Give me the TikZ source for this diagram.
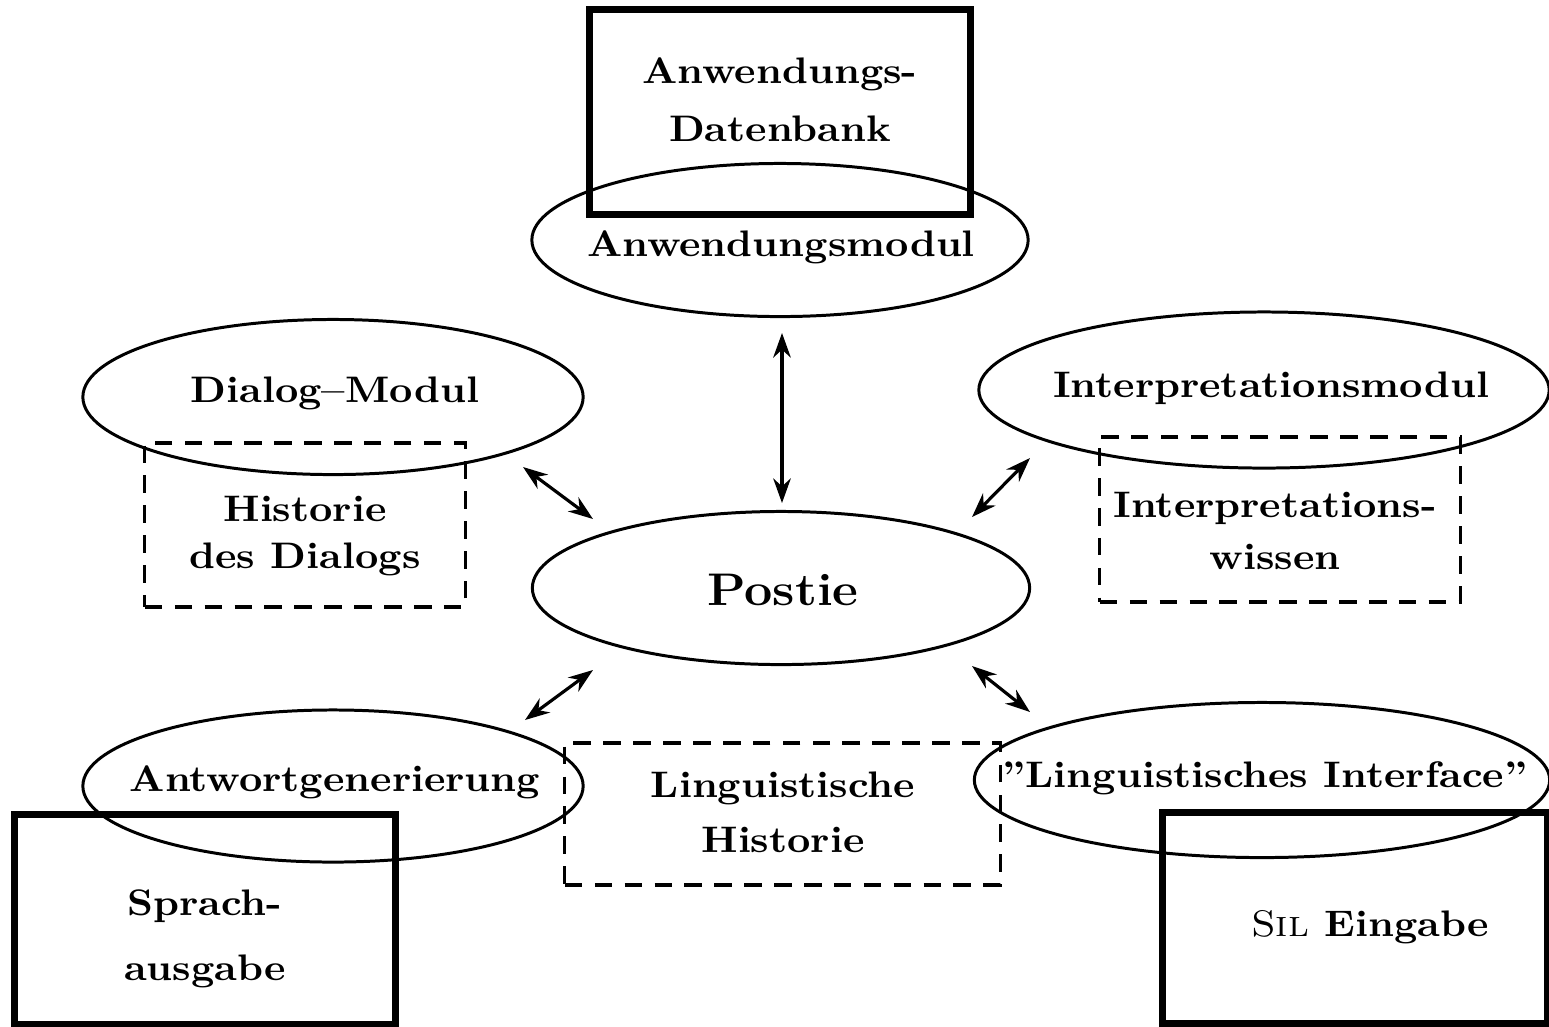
\documentclass[tikz,border=0pt]{standalone}
\usetikzlibrary{shapes.geometric,arrows.meta}
\newcommand{\sx}[1]{\scalebox{1.1}[1]{#1}}
\begin{document}
\begin{tikzpicture}[x=0.01cm,y=-0.01cm,
  ell/.style={draw, ellipse, line width=0.85pt, inner sep=0pt},
  solidbox/.style={draw, rectangle, line width=2pt, inner sep=0pt},
  dbox/.style={draw, rectangle, dash pattern=on 5pt off 3.5pt, line width=0.9pt, inner sep=0pt},
  txt/.style={font=\fontsize{10.5}{12.6}\selectfont\bfseries, align=center, inner sep=0pt},
  bigtxt/.style={font=\fontsize{13}{15}\selectfont\bfseries, align=center, inner sep=0pt},
  arr/.style={{Stealth[length=7pt,width=5pt]}-{Stealth[length=7pt,width=5pt]}, line width=0.9pt}]
\useasboundingbox (0,0) rectangle (1549,1026);

% top
\node[solidbox, minimum width=3.80cm, minimum height=2.05cm] (db) at (780,112) {};
\node[txt] (dbt) at (780,100) {\sx{Anwendungs-}\\[4pt]\sx{Datenbank}};
\node[ell, minimum width=4.96cm, minimum height=1.53cm] (am) at (780,240) {};
\node[txt] (amt) at (781,247) {\sx{Anwendungsmodul}};

% left upper
\node[ell, minimum width=5.00cm, minimum height=1.55cm] (dm) at (333,397) {};
\node[txt] (dmt) at (335,393) {\sx{Dialog--Modul}};
\node[dbox, minimum width=3.20cm, minimum height=1.64cm] (hd) at (305,525) {};
\node[txt] (hdt) at (305,536) {\sx{Historie}\\[1pt]\sx{des Dialogs}};

% right upper
\node[ell, minimum width=5.70cm, minimum height=1.56cm] (im) at (1264,390) {};
\node[txt] (imt) at (1271,388) {\sx{Interpretationsmodul}};
\node[dbox, minimum width=3.60cm, minimum height=1.65cm] (iw) at (1280,519.5) {};
\node[txt] (iwt) at (1275,531) {\sx{Interpretations-}\\[2pt]\sx{wissen}};

% center
\node[ell, minimum width=4.97cm, minimum height=1.53cm] (po) at (781,588) {};
\node[bigtxt] (pot) at (783,590) {\sx{Postie}};

% left lower
\node[ell, minimum width=5.00cm, minimum height=1.52cm] (ag) at (333,786) {};
\node[txt] (agt) at (335,782) {\sx{Antwortgenerierung}};
\node[solidbox, minimum width=3.80cm, minimum height=2.09cm] (sa) at (205,919.5) {};
\node[txt] (sat) at (205,939) {\sx{Sprach-}\\[6pt]\sx{ausgabe}};

% middle lower
\node[dbox, minimum width=4.35cm, minimum height=1.42cm] (lh) at (782.5,814) {};
\node[txt] (lht) at (783,812) {\sx{Linguistische}\\[3pt]\sx{Historie}};

% right lower
\node[ell, minimum width=5.75cm, minimum height=1.55cm] (li) at (1262,780) {};
\node[txt] (lit) at (1265,778) {\sx{''Linguistisches Interface''}};
\node[solidbox, minimum width=3.84cm, minimum height=2.10cm] (se) at (1355,918) {};
\node[txt] (set) at (1370,927) {\sx{{\mdseries\scshape Sil} Eingabe}};

% arrows
\coordinate (a1s) at (782,333);  \coordinate (a1e) at (782,503);
\coordinate (a2s) at (523,467);  \coordinate (a2e) at (593,519);
\coordinate (a3s) at (1030,458); \coordinate (a3e) at (972,517);
\coordinate (a4s) at (593,670);  \coordinate (a4e) at (525,720);
\coordinate (a5s) at (972,666);  \coordinate (a5e) at (1030,712);
\draw[arr] (a1s) -- (a1e);
\draw[arr] (a2s) -- (a2e);
\draw[arr] (a3s) -- (a3e);
\draw[arr] (a4s) -- (a4e);
\draw[arr] (a5s) -- (a5e);
\end{tikzpicture}
\end{document}
